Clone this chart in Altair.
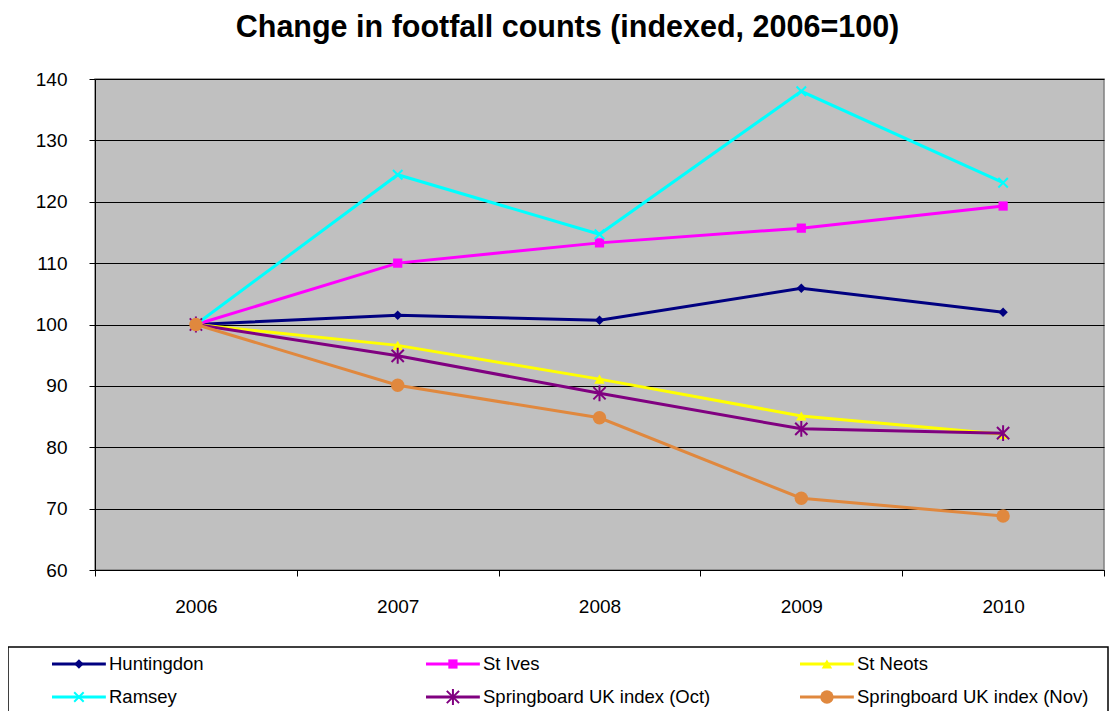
import altair as alt
import pandas as pd

years = ["2006", "2007", "2008", "2009", "2010"]
series = ["Huntingdon", "St Ives", "St Neots", "Ramsey",
          "Springboard UK index (Oct)", "Springboard UK index (Nov)"]
huntingdon = [100, 101.5, 100.7, 105.9, 102.0]
st_ives = [100, 110.0, 113.3, 115.7, 119.3]
st_neots = [100, 96.6, 91.1, 85.1, 82.1]
ramsey = [100, 124.4, 114.7, 138.0, 123.1]
spring_oct = [100, 94.9, 88.8, 83.0, 82.3]
spring_nov = [100, 90.1, 84.8, 71.7, 68.8]
values = [huntingdon, st_ives, st_neots, ramsey, spring_oct, spring_nov]

colors = ["#000080", "#FF00FF", "#FFFF00", "#00FFFF", "#800080", "#E0883E"]
shapes = ["diamond", "square", "triangle-up",
          "M-1,-1L1,1M-1,1L1,-1",
          "M-1,-1L1,1M-1,1L1,-1M0,-1.3L0,1.3",
          "circle"]
sizes = [90, 85, 110, 90, 150, 180]
filled = [True, True, True, False, False, True]
legend_col = [0, 1, 2, 0, 1, 2]
legend_row = [0, 0, 0, 1, 1, 1]

FONT = "Liberation Sans"
W, H = 1009, 491

rows = []
for s, vals in zip(series, values):
    for yr, v in zip(years, vals):
        rows.append({"series": s, "year": yr, "value": v})
df = pd.DataFrame(rows)

leg_df = pd.DataFrame({"series": series, "col": legend_col, "row": legend_row})

x_scale = alt.Scale(domain=years, type="band", paddingInner=0, paddingOuter=0)
y_scale = alt.Scale(domain=[60, 140], nice=False, zero=False)
x_axis = alt.Axis(title=None, tickBand="extent", grid=False, labelAngle=0,
                  domainColor="black", tickColor="black", tickSize=6,
                  labelFont=FONT, labelFontSize=19, labelColor="black",
                  labelPadding=21)
y_axis = alt.Axis(title=None, values=list(range(60, 141, 10)), grid=True,
                  gridColor="black", gridWidth=1, domainColor="black",
                  tickColor="black", tickSize=6, labelFont=FONT,
                  labelFontSize=19, labelColor="black", labelPadding=22)

plot_layers = []
for s, c, sh, sz, f in zip(series, colors, shapes, sizes, filled):
    base = alt.Chart(df).transform_filter(alt.datum.series == s)
    enc = dict(x=alt.X("year:O", scale=x_scale, axis=x_axis),
               y=alt.Y("value:Q", scale=y_scale, axis=y_axis))
    plot_layers.append(base.mark_line(color=c, strokeWidth=3).encode(**enc))
    plot_layers.append(base.mark_point(shape=sh, size=sz, filled=f, color=c,
                                       opacity=1, strokeWidth=2).encode(**enc))
main = alt.layer(*plot_layers)

lx_scale = alt.Scale(domain=[0, 3], range=[-43, -43 + 3 * 374], nice=False, zero=False)
ly_scale = alt.Scale(domain=[0, 1], range=[585, 618], nice=False, zero=False)

box = alt.Chart(pd.DataFrame({"k": [0]})).mark_rect(
    fill="white", stroke="black", strokeWidth=1.5).encode(
    x=alt.value(-87), x2=alt.value(1013), y=alt.value(568), y2=alt.value(720))
legend_layers = [box]
for s, c, sh, sz, f in zip(series, colors, shapes, sizes, filled):
    lb = alt.Chart(leg_df).transform_filter(alt.datum.series == s).transform_calculate(
        x1="datum.col", x2="datum.col + 0.144", xm="datum.col + 0.072",
        xt="datum.col + 0.1524")
    yenc = alt.Y("row:Q", scale=ly_scale, axis=None)
    legend_layers.append(lb.mark_rule(color=c, strokeWidth=3).encode(
        x=alt.X("x1:Q", scale=lx_scale, axis=None), x2="x2:Q", y=yenc))
    legend_layers.append(lb.mark_point(shape=sh, size=sz, filled=f, color=c,
                                       opacity=1, strokeWidth=2).encode(
        x=alt.X("xm:Q", scale=lx_scale, axis=None), y=yenc))
    legend_layers.append(lb.mark_text(align="left", baseline="middle", font=FONT,
                                      fontSize=18.5, color="black").encode(
        x=alt.X("xt:Q", scale=lx_scale, axis=None), y=yenc, text="series:N"))
leg = alt.layer(*legend_layers)

chart = alt.layer(main, leg).resolve_scale(x="independent", y="independent").properties(
    width=W, height=H,
    title=alt.TitleParams("Change in footfall counts (indexed, 2006=100)",
                          font=FONT, fontSize=30.5, fontWeight="bold", color="black",
                          anchor="middle", frame="group", dx=-32, offset=27),
    padding={"left": 87, "top": 71, "right": 6, "bottom": 141},
    autosize=alt.AutoSizeParams(type="none"),
).configure_view(fill="#C0C0C0", stroke="#808080", strokeWidth=1.5)

chart.save("out.html", embed_options={"renderer": "svg", "actions": False})
